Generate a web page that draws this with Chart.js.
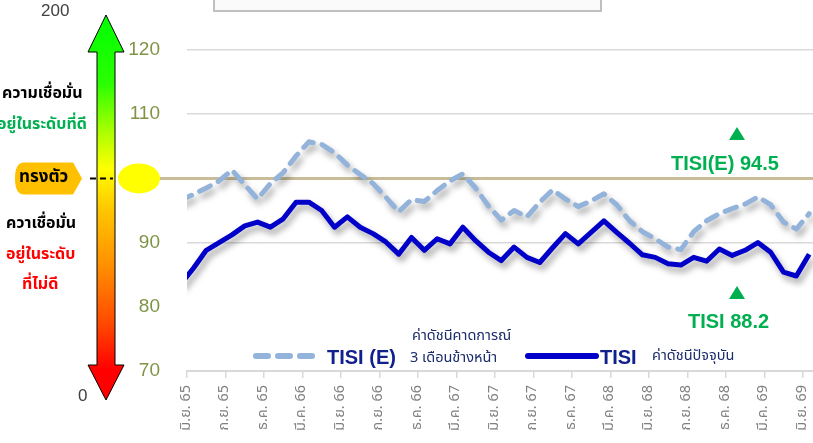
<!DOCTYPE html>
<html>
<head>
<meta charset="utf-8">
<script src="https://cdn.jsdelivr.net/npm/chart.js@4.4.1/dist/chart.umd.min.js"></script>
<style>
  html, body { margin: 0; padding: 0; background: #fff; overflow: hidden; }
  #wrap { position: relative; width: 813px; height: 443px; font-family: "Liberation Sans", Arial, sans-serif; }
  canvas { position: absolute; left: 0; top: 0; }
  .t { position: absolute; white-space: nowrap; line-height: 1; font-weight: bold; }
  .th { font-family: "Noto Sans Thai", "Noto Sans", "Liberation Sans", sans-serif; }
  .tri { position: absolute; width: 0; height: 0; border-left: 8px solid transparent; border-right: 8px solid transparent; border-bottom: 13px solid #00B050; }
</style>
</head>
<body>
<div id="wrap">
  <canvas id="chart" width="813" height="443"></canvas>

  <div style="position:absolute;left:213px;top:-20px;width:385px;height:28px;border:2px solid #BFBFBF;background:#FAFAFA;"></div>

  <div class="t" style="left:41px;top:2px;font-weight:normal;font-size:17px;color:#404040;">200</div>
  <div class="t" style="left:78px;top:387px;font-weight:normal;font-size:17px;color:#404040;">0</div>

  <div class="t th" style="left:2px;top:85px;font-size:16px;color:#000;">ความเชื่อมั่น</div>
  <div class="t th" style="left:-3px;top:116px;font-size:16px;color:#00B050;">อยู่ในระดับที่ดี</div>
  <div class="t th" style="left:6px;top:215px;font-size:16px;color:#000;">ควาเชื่อมั่น</div>
  <div class="t th" style="left:6px;top:246px;font-size:16px;color:#FF0000;">อยู่ในระดับ</div>
  <div class="t th" style="left:22px;top:276px;font-size:16px;color:#FF0000;">ที่ไม่ดี</div>
  <div class="t th" style="left:19px;top:169px;font-size:17px;color:#000;">ทรงตัว</div>

  <div class="tri" style="left:729px;top:127px;"></div>
  <div class="t" style="left:671px;top:153px;font-size:20px;color:#00B050;">TISI(E) 94.5</div>
  <div class="tri" style="left:729px;top:286px;"></div>
  <div class="t" style="left:688px;top:311px;font-size:20px;color:#00B050;">TISI 88.2</div>

  <svg style="position:absolute;left:249px;top:349px;" width="70" height="14">
    <line x1="7" y1="7" x2="64" y2="7" stroke="#93B3DB" stroke-width="6" stroke-linecap="round" stroke-dasharray="12 10"></line>
  </svg>
  <div class="t" style="left:327px;top:347px;font-size:20px;color:#10208C;">TISI (E)</div>
  <div class="t th" style="left:412px;top:329px;font-size:14.5px;font-weight:normal;color:#1A2C6B;">ค่าดัชนีคาดการณ์</div>
  <div class="t th" style="left:410px;top:351px;font-size:14.5px;font-weight:normal;color:#1A2C6B;">3 เดือนข้างหน้า</div>
  <svg style="position:absolute;left:522px;top:349px;" width="80" height="14">
    <line x1="6" y1="7" x2="74" y2="7" stroke="#0000C8" stroke-width="6" stroke-linecap="round"></line>
  </svg>
  <div class="t" style="left:600px;top:347px;font-size:20px;color:#10208C;">TISI</div>
  <div class="t th" style="left:652px;top:349px;font-size:14.5px;font-weight:normal;color:#1A2C6B;">ค่าดัชนีปัจจุบัน</div>
</div>

<script>
// tick labels, one every 3 months (placed at category boundaries)
const monthLabels = ["มิ.ย. 65", "ก.ย. 65", "ธ.ค. 65", "มี.ค. 66", "มิ.ย. 66", "ก.ย. 66",
  "ธ.ค. 66", "มี.ค. 67", "มิ.ย. 67", "ก.ย. 67", "ธ.ค. 67", "มี.ค. 68", "มิ.ย. 68",
  "ก.ย. 68", "ธ.ค. 68", "มี.ค. 69", "มิ.ย. 69"];

// monthly values, first one sits just left of the visible plot
const tisi = [83.5, 86.0, 88.8, 90.0, 91.2, 92.6, 93.2, 92.4, 93.7, 96.3,
  96.3, 95.0, 92.4, 94.0, 92.4, 91.4, 90.1, 88.2, 90.8, 88.8,
  90.6, 89.8, 92.4, 90.3, 88.5, 87.2, 89.3, 87.7, 86.9, 89.2,
  91.4, 89.8, 91.6, 93.4, 91.6, 89.9, 88.1, 87.7, 86.7, 86.5,
  87.7, 87.1, 89.0, 88.0, 88.8, 90.0, 88.5, 85.4, 84.8, 88.2];

const tisiE = [96.6, 97.5, 98.5, 99.6, 101.3, 99.0, 96.8, 99.2, 100.9, 103.5,
  105.7, 105.3, 104.0, 102.1, 100.6, 99.2, 97.1, 94.8, 96.7, 96.4,
  98.1, 99.6, 100.7, 98.5, 95.7, 93.5, 95.0, 94.0, 96.3, 98.2,
  96.8, 95.6, 96.5, 97.6, 95.9, 93.4, 91.7, 90.6, 89.3, 88.9,
  91.7, 93.4, 94.5, 95.3, 96.0, 97.1, 95.9, 93.2, 92.1, 94.5];

const steadyLevel = 100;

const toPoints = arr => arr.map((v, i) => ({ x: i - 1, y: v }));

const shadowPlugin = {
  id: "shadow",
  beforeDatasetDraw(chart) {
    const c = chart.ctx;
    c.save();
    c.shadowColor = "rgba(0,0,0,0.35)";
    c.shadowBlur = 6;
    c.shadowOffsetX = 3;
    c.shadowOffsetY = 5;
  },
  afterDatasetDraw(chart) {
    chart.ctx.restore();
  }
};

const steadyLine = {
  id: "steadyLine",
  beforeDatasetsDraw(chart) {
    const c = chart.ctx;
    const y = chart.scales.y.getPixelForValue(steadyLevel);
    c.save();
    c.strokeStyle = "#C8BD98";
    c.lineWidth = 3;
    c.beginPath();
    c.moveTo(150, y);
    c.lineTo(chart.chartArea.right, y);
    c.stroke();
    c.restore();
  }
};

const sideScale = {
  id: "sideScale",
  afterDraw(chart) {
    const c = chart.ctx;
    const y = chart.scales.y.getPixelForValue(steadyLevel);
    const cx = 106, top = 15, bottom = 400, headTop = 52, headBot = 365;
    c.save();

    // gradient double arrow
    const g = c.createLinearGradient(0, top, 0, bottom);
    g.addColorStop(0, "#00FF00");
    g.addColorStop(0.18, "#2BFF00");
    g.addColorStop(0.3, "#A8FF00");
    g.addColorStop(0.4, "#FFFF00");
    g.addColorStop(0.5, "#FFC800");
    g.addColorStop(0.65, "#FF9000");
    g.addColorStop(0.8, "#FF4A00");
    g.addColorStop(0.92, "#FF0000");
    g.addColorStop(1, "#FF0000");
    c.beginPath();
    c.moveTo(cx, top);
    c.lineTo(cx + 18, headTop);
    c.lineTo(cx + 9, headTop);
    c.lineTo(cx + 9, headBot);
    c.lineTo(cx + 18, headBot);
    c.lineTo(cx, bottom);
    c.lineTo(cx - 18, headBot);
    c.lineTo(cx - 9, headBot);
    c.lineTo(cx - 9, headTop);
    c.lineTo(cx - 18, headTop);
    c.closePath();
    c.fillStyle = g;
    c.fill();
    c.strokeStyle = "#000";
    c.lineWidth = 1;
    c.stroke();

    // dashed mark on the arrow at the steady level
    c.setLineDash([6, 4]);
    c.lineWidth = 2;
    c.beginPath();
    c.moveTo(90, y);
    c.lineTo(113, y);
    c.stroke();
    c.setLineDash([]);

    // yellow dot over the 100 label
    c.fillStyle = "#FFFF00";
    c.beginPath();
    c.ellipse(139, y, 21, 15, 0, 0, Math.PI * 2);
    c.fill();

    // orange badge behind "ทรงตัว"
    c.fillStyle = "#FFC000";
    c.beginPath();
    c.moveTo(24, y - 16);
    c.lineTo(73, y - 16);
    c.lineTo(82, y);
    c.lineTo(73, y + 16);
    c.lineTo(24, y + 16);
    c.quadraticCurveTo(15, y + 16, 15, y);
    c.quadraticCurveTo(15, y - 16, 24, y - 16);
    c.fill();
    c.restore();
  }
};

new Chart(document.getElementById("chart"), {
  type: "line",
  data: {
    datasets: [
      {
        label: "TISI (E)",
        data: toPoints(tisiE),
        borderColor: "#93B3DB",
        borderWidth: 5,
        borderDash: [12, 9],
        borderCapStyle: "round",
        borderJoinStyle: "round",
        pointRadius: 0,
        tension: 0
      },
      {
        label: "TISI",
        data: toPoints(tisi),
        borderColor: "#0000C8",
        borderWidth: 5,
        borderJoinStyle: "round",
        pointRadius: 0,
        tension: 0
      }
    ]
  },
  options: {
    responsive: false,
    animation: false,
    layout: { padding: { top: 50, left: 0, right: 0, bottom: 0 } },
    plugins: {
      legend: { display: false },
      tooltip: { enabled: false }
    },
    scales: {
      x: {
        type: "linear",
        min: -0.5,
        max: 48.3,
        afterFit: s => {
          s.height = 72;
          s.paddingLeft = 0;
          s.paddingRight = 0;
        },
        afterBuildTicks: s => {
          s.ticks = monthLabels.map((l, i) => ({ value: -0.5 + 3 * i }));
        },
        border: { color: "#D9D9D9", width: 2 },
        grid: { drawOnChartArea: false, tickLength: 7, color: "#D9D9D9", lineWidth: 1.5 },
        ticks: {
          autoSkip: false,
          minRotation: 90,
          maxRotation: 90,
          padding: 7,
          color: "#808080",
          font: { family: "'Noto Sans Thai', 'Liberation Sans', sans-serif", size: 14.5 },
          callback: (v, i) => monthLabels[i]
        }
      },
      y: {
        min: 70,
        max: 120,
        afterFit: s => { s.width = 187; },
        border: { display: false },
        grid: {
          drawTicks: false,
          lineWidth: 1.5,
          color: c => (c.tick.value === 100 || c.tick.value === 80 || c.tick.value === 70) ? "rgba(0,0,0,0)" : "#D9D9D9"
        },
        ticks: {
          stepSize: 10,
          padding: 27,
          color: "#7F9446",
          font: { family: "'Liberation Sans', Arial, sans-serif", size: 19 },
          callback: v => v === 100 ? "" : v
        }
      }
    }
  },
  plugins: [shadowPlugin, steadyLine, sideScale]
});
</script>
</body>
</html>
